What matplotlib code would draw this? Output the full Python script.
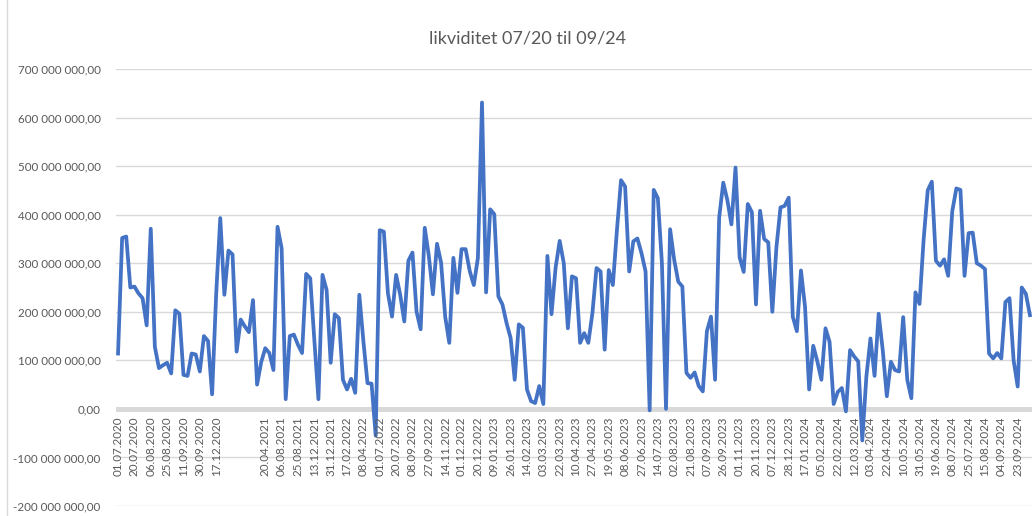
import matplotlib
matplotlib.use("Agg")
import matplotlib.pyplot as plt
from matplotlib.ticker import FuncFormatter, MultipleLocator
from matplotlib.lines import Line2D

plt.rcParams['font.family'] = ['Lato', 'DejaVu Sans']

# likviditet, millioner kroner (lest av grafen)
likviditet = [
    114, 352, 355, 250, 252, 238, 228, 172, 371, 128,
    84, 90, 95, 73, 203, 196, 70, 68, 114, 112,
    77, 150, 140, 30, 237, 393, 235, 326, 318, 118,
    184, 170, 158, 224, 50, 96, 125, 115, 80, 375,
    331, 20, 150, 153, 132, 115, 278, 269, 142, 20,
    276, 245, 95, 195, 187, 60, 40, 62, 33, 235,
    139, 53, 52, -55, 368, 365, 238, 190, 276, 235,
    180, 305, 322, 200, 164, 373, 315, 236, 340, 301,
    190, 136, 311, 239, 329, 329, 284, 255, 311, 631,
    240, 411, 401, 232, 215, 177, 146, 60, 174, 167,
    40, 16, 12, 47, 10, 315, 195, 291, 346, 300,
    166, 273, 269, 136, 156, 136, 197, 290, 283, 122,
    286, 255, 368, 471, 458, 283, 345, 351, 321, 283,
    -3, 451, 434, 300, 0, 370, 307, 262, 252, 74,
    64, 75, 47, 36, 160, 190, 60, 394, 466, 430,
    380, 497, 312, 282, 422, 405, 215, 408, 350, 343,
    200, 333, 415, 418, 435, 190, 160, 285, 210, 40,
    130, 98, 60, 166, 138, 10, 35, 43, -5, 121,
    108, 98, -65, 67, 145, 68, 196, 121, 26, 97,
    80, 77, 189, 60, 22, 240, 216, 349, 450, 468,
    305, 295, 308, 274, 407, 454, 451, 274, 362, 363,
    300, 295, 288, 114, 104, 115, 104, 220, 228, 100,
    46, 250, 237, 193,
]
verdier = [v * 1e6 for v in likviditet]

datoer = [
    "01.07.2020", "20.07.2020", "06.08.2020", "25.08.2020", "11.09.2020",
    "30.09.2020", "17.12.2020", "", "", "20.04.2021", "06.08.2021",
    "25.08.2021", "13.12.2021", "31.12.2021", "17.02.2022", "08.04.2022",
    "01.07.2022", "20.07.2022", "08.09.2022", "27.09.2022", "14.11.2022",
    "01.12.2022", "20.12.2022", "09.01.2023", "26.01.2023", "14.02.2023",
    "03.03.2023", "22.03.2023", "10.04.2023", "27.04.2023", "19.05.2023",
    "08.06.2023", "27.06.2023", "14.07.2023", "02.08.2023", "21.08.2023",
    "07.09.2023", "26.09.2023", "01.11.2023", "20.11.2023", "07.12.2023",
    "28.12.2023", "17.01.2024", "05.02.2024", "22.02.2024", "12.03.2024",
    "03.04.2024", "22.04.2024", "10.05.2024", "31.05.2024", "19.06.2024",
    "08.07.2024", "25.07.2024", "15.08.2024", "04.09.2024", "23.09.2024",
]
steg = 4  # punkter mellom hver dato-etikett


def kroner(v, pos):
    s = f"{abs(v):,.2f}".replace(",", " ").replace(".", ",")
    return ("-" if v < 0 else "") + s


W, H = 1033, 516
fig = plt.figure(figsize=(W / 100, H / 100), dpi=100)
ax = fig.add_axes([116 / W, 1 - 506 / H, 916 / W, (506 - 69) / H])

x = list(range(len(verdier)))
ax.axhline(0, color="#d9d9d9", lw=3.6, zorder=1)
ax.plot(x, verdier, color="#4472c4", lw=2.7, zorder=3,
        solid_joinstyle="round")

ax.set_xlim(-0.5, len(verdier) - 0.5)
ax.set_ylim(-200e6, 700e6)
ax.yaxis.set_major_locator(MultipleLocator(100e6))
ax.yaxis.set_major_formatter(FuncFormatter(kroner))
ax.grid(axis="y", color="#d9d9d9", lw=1)
ax.set_axisbelow(True)
ax.set_xticks([])
ax.tick_params(axis="y", length=0, pad=11, labelsize=8.4, labelcolor="#595959")
for s in ax.spines.values():
    s.set_visible(False)

for k, d in enumerate(datoer):
    ax.text(k * steg, -16e6, d, rotation=90, ha="center", va="top",
            fontsize=8.4, color="#595959")

fig.text(528 / W, 1 - 38 / H, "likviditet 07/20 til 09/24", ha="center",
         va="center", fontsize=13, color="#595959")
fig.add_artist(Line2D([7 / W, 7 / W], [0, 1], color="#d9d9d9", lw=1))

fig.savefig("out.png", dpi=100)
